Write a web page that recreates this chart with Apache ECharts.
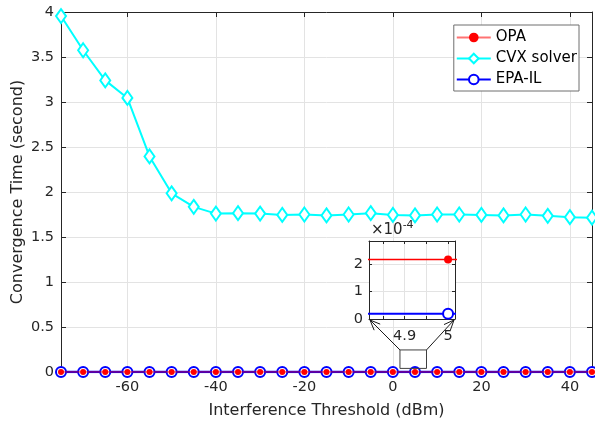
<!DOCTYPE html>
<html><head><meta charset="utf-8">
<script src="https://cdn.jsdelivr.net/npm/echarts@6/dist/echarts.min.js"></script>
<style>html,body{margin:0;padding:0;background:#fff}#c{width:595px;height:425px}</style>
</head><body><div id="c"></div>
<script>
// ---- data ----
const thresholds = [-75,-70,-65,-60,-55,-50,-45,-40,-35,-30,-25,-20,-15,-10,-5,0,5,10,15,20,25,30,35,40,45];
const cvxSolver = [3.955,3.575,3.24,3.045,2.395,1.985,1.835,1.76,1.765,1.76,1.745,1.75,1.74,1.75,1.765,1.745,1.74,1.75,1.75,1.745,1.74,1.75,1.735,1.72,1.715];
const opa = [2.17e-4,2.17e-4,2.17e-4,2.17e-4,2.17e-4,2.17e-4,2.17e-4,2.17e-4,2.17e-4,2.17e-4,2.17e-4,2.17e-4,2.17e-4,2.17e-4,2.17e-4,2.17e-4,2.17e-4,2.17e-4,2.17e-4,2.17e-4,2.17e-4,2.17e-4,2.17e-4,2.17e-4,2.17e-4];
const epaIL = [0.19e-4,0.19e-4,0.19e-4,0.19e-4,0.19e-4,0.19e-4,0.19e-4,0.19e-4,0.19e-4,0.19e-4,0.19e-4,0.19e-4,0.19e-4,0.19e-4,0.19e-4,0.19e-4,0.19e-4,0.19e-4,0.19e-4,0.19e-4,0.19e-4,0.19e-4,0.19e-4,0.19e-4,0.19e-4];
const seriesNames = ['OPA','CVX solver','EPA-IL'];
const xTickValues = [-60,-40,-20,0,20,40];
const insetXTickValues = [4.85,4.9,4.95,5];
const insetXLabelValues = [4.9,5];
const insetYTickValues = [0,1e-4,2e-4];
const xName = 'Interference Threshold (dBm)';
const yName = 'Convergence Time (second)';

const FONT = '"DejaVu Sans", "Liberation Sans", Arial, sans-serif';
const AX = '#262626';
const GRIDC = '#e3e3e3';
const pts = arr => thresholds.map((x,i)=>[x,arr[i]]);

const chart = echarts.init(document.getElementById('c'), null, {renderer:'canvas'});
const baseAxis = {
  axisLine:{show:true,onZero:false,lineStyle:{color:AX,width:1}},
  axisTick:{show:true,inside:true,length:5,lineStyle:{color:AX}},
  axisLabel:{show:false},
  splitLine:{show:false}
};
const option = {
  animation:false,
  backgroundColor:'#fff',
  textStyle:{fontFamily:FONT},
  grid:[
    {left:61,right:3,top:12,bottom:53,containLabel:false,outerBoundsMode:'none'},
    {left:369,top:241,width:86,height:78,show:true,backgroundColor:'#fff',borderWidth:0,z:3,containLabel:false,outerBoundsMode:'none'}
  ],
  legend:{
    orient:'vertical', right:16, top:25,
    data:seriesNames,
    backgroundColor:'#fff', borderColor:'#6e6e6e', borderWidth:1,
    padding:[5,2,4,2], itemGap:6, itemWidth:34, itemHeight:12,
    textStyle:{fontSize:15,color:'#000',fontFamily:FONT},
    z:10
  },
  xAxis:[
    Object.assign({}, baseAxis, {
      type:'value', gridIndex:0, position:'bottom', min:-75, max:45,
      axisTick:{show:true,inside:true,length:5,lineStyle:{color:AX},customValues:xTickValues},
      axisLabel:{show:true,customValues:xTickValues,color:AX,fontSize:14.5,margin:8,fontFamily:FONT},
      splitLine:{show:true,lineStyle:{color:GRIDC,width:1}},
      name:xName, nameLocation:'middle', nameGap:31, nameMoveOverlap:false,
      nameTextStyle:{fontSize:16,color:AX,fontFamily:FONT}
    }),
    Object.assign({}, baseAxis, {
      type:'value', gridIndex:0, position:'top', min:-75, max:45,
      axisTick:{show:true,inside:true,length:5,lineStyle:{color:AX},customValues:xTickValues}
    }),
    Object.assign({}, baseAxis, {
      type:'value', gridIndex:1, position:'bottom', min:4.818, max:5.016, z:4,
      axisTick:{show:true,inside:true,length:3,lineStyle:{color:AX},customValues:insetXTickValues},
      axisLabel:{show:true,customValues:insetXLabelValues,color:AX,fontSize:14.5,margin:10,fontFamily:FONT,
        formatter:v=>String(Math.round(v*10)/10)},
      splitLine:{show:true,lineStyle:{color:GRIDC,width:1}}
    }),
    Object.assign({}, baseAxis, {
      type:'value', gridIndex:1, position:'top', min:4.818, max:5.016, z:4,
      axisTick:{show:true,inside:true,length:3,lineStyle:{color:AX},customValues:insetXTickValues}
    })
  ],
  yAxis:[
    Object.assign({}, baseAxis, {
      type:'value', gridIndex:0, position:'left', min:0, max:4, interval:0.5,
      axisLabel:{show:true,color:AX,fontSize:14.5,margin:7,fontFamily:FONT},
      splitLine:{show:true,lineStyle:{color:GRIDC,width:1}},
      name:yName, nameLocation:'middle', nameGap:35, nameRotate:90, nameMoveOverlap:false,
      nameTextStyle:{fontSize:16,color:AX,fontFamily:FONT}
    }),
    Object.assign({}, baseAxis, {
      type:'value', gridIndex:0, position:'right', min:0, max:4, interval:0.5
    }),
    Object.assign({}, baseAxis, {
      type:'value', gridIndex:1, position:'left', min:0, max:2.84e-4, z:4,
      axisTick:{show:true,inside:true,length:3,lineStyle:{color:AX},customValues:insetYTickValues},
      axisLabel:{show:true,customValues:insetYTickValues,color:AX,fontSize:14.5,margin:6,fontFamily:FONT,
        formatter:v=>String(Math.round(v/1e-4))},
      splitLine:{show:true,lineStyle:{color:GRIDC,width:1}},
      name:'×10{sup|-4}', nameLocation:'end', nameGap:1, nameMoveOverlap:false,
      nameTextStyle:{fontSize:15,color:AX,align:'left',fontFamily:FONT,padding:[0,0,0,2],
        rich:{sup:{fontSize:11,verticalAlign:'top',padding:[0,0,9,0],color:AX,fontFamily:FONT}}}
    }),
    Object.assign({}, baseAxis, {
      type:'value', gridIndex:1, position:'right', min:0, max:2.84e-4, z:4,
      axisTick:{show:true,inside:true,length:3,lineStyle:{color:AX},customValues:insetYTickValues}
    })
  ],
  series:[
    {name:'CVX solver', type:'line', xAxisIndex:0, yAxisIndex:0, data:pts(cvxSolver),
      symbol:'emptyDiamond', symbolSize:[10,14], z:2,
      lineStyle:{color:'#00ffff',width:2}, itemStyle:{color:'#00ffff',borderWidth:2}},
    {name:'EPA-IL', type:'line', xAxisIndex:0, yAxisIndex:0, data:pts(epaIL),
      symbol:'emptyCircle', symbolSize:10, z:3,
      lineStyle:{color:'#0000ff',width:2.5}, itemStyle:{color:'#0000ff',borderWidth:3}},
    {name:'OPA', type:'line', xAxisIndex:0, yAxisIndex:0, data:pts(opa),
      symbol:'circle', symbolSize:6, z:4,
      lineStyle:{color:'#ff0000',width:1.5,opacity:0.55}, itemStyle:{color:'#ff0000'}},
    {name:'EPA-IL', type:'line', xAxisIndex:2, yAxisIndex:2, data:pts(epaIL), clip:true,
      symbol:'emptyCircle', symbolSize:10, z:6,
      lineStyle:{color:'#0000ff',width:2}, itemStyle:{color:'#0000ff',borderWidth:2}},
    {name:'OPA', type:'line', xAxisIndex:2, yAxisIndex:2, data:pts(opa), clip:true,
      symbol:'circle', symbolSize:8, z:6,
      lineStyle:{color:'#ff0000',width:1.5}, itemStyle:{color:'#ff0000'}}
  ]
};
chart.setOption(option);

// zoom-box annotation and arrows
function arrowHead(tip, from, len, ang){
  const dx = from[0]-tip[0], dy = from[1]-tip[1];
  const d = Math.hypot(dx,dy), ux = dx/d, uy = dy/d;
  const c = Math.cos(ang), s = Math.sin(ang);
  const p1 = [tip[0]+len*(ux*c-uy*s), tip[1]+len*(ux*s+uy*c)];
  const p2 = [tip[0]+len*(ux*c+uy*s), tip[1]+len*(-ux*s+uy*c)];
  return [p1, tip, p2];
}
const boxTL = chart.convertToPixel({xAxisIndex:0,yAxisIndex:0},[1.6,0.245]);
const boxBR = chart.convertToPixel({xAxisIndex:0,yAxisIndex:0},[7.6,0.04]);
const insBL = chart.convertToPixel({xAxisIndex:2,yAxisIndex:2},[4.818,0]);
const insBR = chart.convertToPixel({xAxisIndex:2,yAxisIndex:2},[5.016,0]);
const boxTR = [boxBR[0], boxTL[1]];
const lineSt = {stroke:'#1a1a1a', lineWidth:1, fill:null};
chart.setOption({graphic:[
  {type:'rect', z:20, shape:{x:boxTL[0],y:boxTL[1],width:boxBR[0]-boxTL[0],height:boxBR[1]-boxTL[1]}, style:{stroke:'#404040',lineWidth:1,fill:null}},
  {type:'line', z:20, shape:{x1:boxTL[0],y1:boxTL[1],x2:insBL[0]+1,y2:insBL[1]+1}, style:lineSt},
  {type:'line', z:20, shape:{x1:boxTR[0],y1:boxTR[1],x2:insBR[0]-1,y2:insBR[1]+1}, style:lineSt},
  {type:'polyline', z:20, shape:{points:arrowHead([insBL[0]+1,insBL[1]+1], boxTL, 11, 0.4)}, style:lineSt},
  {type:'polyline', z:20, shape:{points:arrowHead([insBR[0]-1,insBR[1]+1], boxTR, 11, 0.4)}, style:lineSt}
]});
</script>
</body></html>
